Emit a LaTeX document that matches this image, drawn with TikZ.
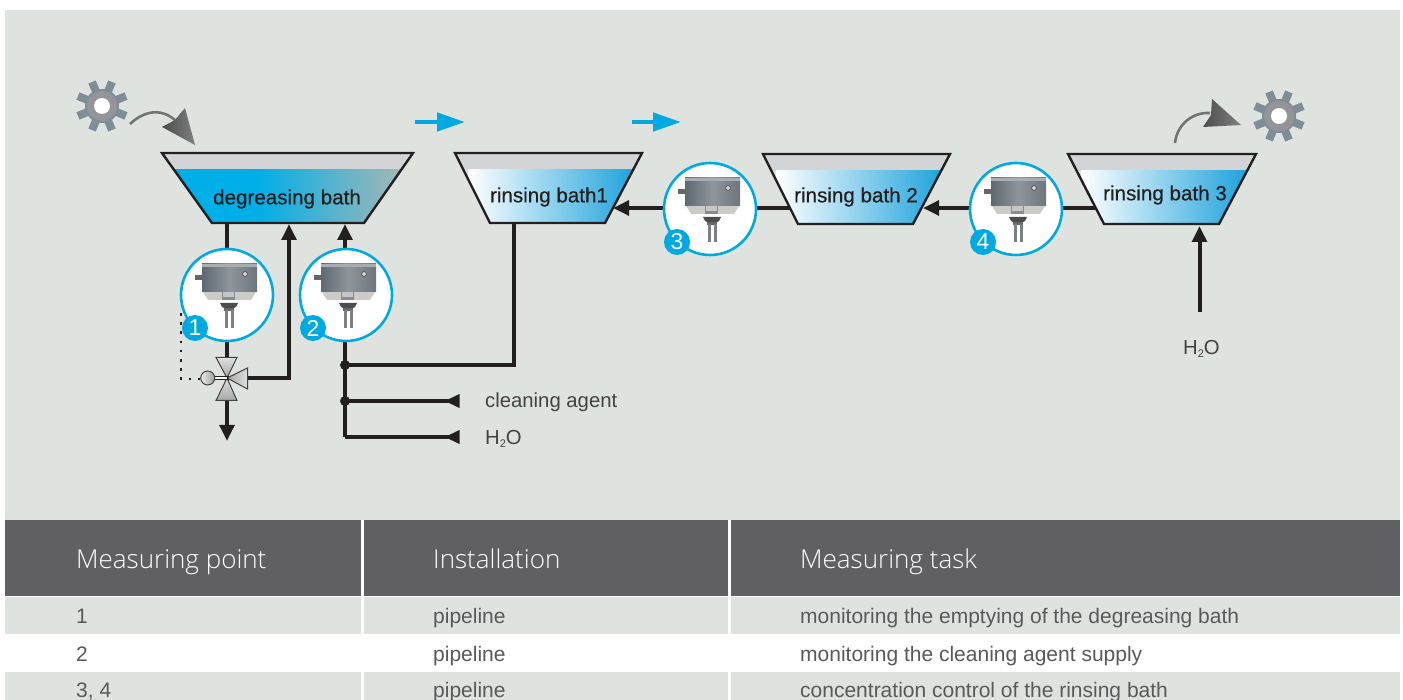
\documentclass[tikz,border=0pt]{standalone}
\usepackage{fontspec}
\setmainfont{Liberation Sans}
\newfontfamily\bathfont[FakeBold=0.45]{Liberation Sans}
\setsansfont{Open Sans}[UprightFont=* Light]
\usetikzlibrary{calc,arrows.meta}
\definecolor{panel}{HTML}{DFE3E0}
\definecolor{headbg}{HTML}{606062}
\definecolor{pipeblk}{HTML}{231F20}
\definecolor{cy}{HTML}{00AEE8}
\definecolor{cyb}{HTML}{00A9E0}
\definecolor{rinseb}{HTML}{1FA3DC}
\definecolor{airg}{HTML}{D2D4D6}
\definecolor{txt}{HTML}{58595B}
\definecolor{gearc}{HTML}{7F8E96}
\definecolor{ringc}{HTML}{939598}
\definecolor{greyend}{HTML}{A3B7B5}
\definecolor{boxl}{HTML}{5F6972}
\definecolor{boxm}{HTML}{8E959B}
\definecolor{boxr}{HTML}{6E767D}
\definecolor{boxt}{HTML}{A8ADB2}
\definecolor{lowerb}{HTML}{CCCBC8}
\definecolor{tube}{HTML}{7D8083}
\pgfdeclarehorizontalshading{degrshade}{100bp}{color(0bp)=(cy); color(45bp)=(cy); color(75bp)=(greyend); color(100bp)=(greyend)}
\tikzset{x=1pt,y=-1pt,
 pipeline/.style={draw=pipeblk,line width=4pt},
 headtip/.style={-{Triangle[length=16pt,width=14.5pt]}},
 sensorring/.style={circle,draw=cyb,line width=2.6pt,fill=white,minimum size=92pt,inner sep=0pt},
 badge/.style={circle,fill=cyb,text=white,minimum size=26pt,inner sep=0pt,font=\fontsize{23}{23}\selectfont},
 bathlabel/.style={text=pipeblk,inner sep=0pt,font=\bathfont\fontsize{20.6}{22}\selectfont},
 lab/.style={text=pipeblk!85!white,inner sep=0pt,anchor=base west,font=\fontsize{20.3}{24}\selectfont},
 hcell/.style={text=white,inner sep=0pt,anchor=base west,font=\sffamily\fontsize{26}{30}\selectfont},
 cell/.style={text=txt,inner sep=0pt,anchor=base west,font=\fontsize{21}{24}\selectfont},
 valvepart/.style={draw=pipeblk!85!white,line width=1pt,top color=gray!25,bottom color=gray!70},
 valveside/.style={draw=pipeblk!85!white,line width=1pt,left color=gray!70,right color=gray!25},
 junction/.style={circle,fill=pipeblk,minimum size=10pt,inner sep=0pt},
}
% bath: x top left, x top right, x bottom left, x bottom right, y top, y bottom, y water
\newcommand{\bathbody}[8]{%
 \begin{scope}
  \clip (#1,#5) -- (#2,#5) -- (#4,#6) -- (#3,#6) -- cycle;
  \fill[airg] (#1,#5) rectangle (#2,#7);
  #8
 \end{scope}
 \draw[draw=pipeblk,line width=2.4pt,line join=miter] (#1,#5) -- (#2,#5) -- (#4,#6) -- (#3,#6) -- cycle;
}
\newcommand{\rinsefill}[4]{\shade[left color=white,right color=rinseb] (#1,#3) rectangle (#2,#4);}
% sensor picture at centre
\newcommand{\sensorpic}[2]{%
 \begin{scope}[shift={(#1,#2)}]
  \fill[gray!80!black] (-32,-20) rectangle (-25,-15);
  \fill[lowerb] (-24,-3) -- (29,-3) -- (24,5) -- (-19,5) -- cycle;
  \shade[left color=boxl,right color=boxr,middle color=boxm] (-25,-31) rectangle (30,-3);
  \fill[boxt] (-25,-31) rectangle (30,-28);
  \fill[gray!30] (18,-21) circle (2.4);
  \draw[black!70,line width=.7pt] (18,-21) circle (2.4);
  \fill[tube!90!white] (-5,-3) rectangle (8,5);
  \fill[tube!45!white] (-4,-3) rectangle (7,2);
  \fill[black!70] (-7,8) -- (11,8) -- (9,12) -- (5,14) -- (-1,14) -- (-5,12) -- cycle;
  \fill[black!60] (-3,13) rectangle (7,16);
  \fill[tube] (-2,15) rectangle (1,33);
  \fill[tube] (4,15) rectangle (7,33);
 \end{scope}}
\newcommand{\gearpic}[2]{%
 \begin{scope}[shift={(#1,#2)}]
  \foreach \a in {22.5,67.5,...,337.5}{\fill[gearc,rotate=\a] (12,-4) rectangle (26,4);}
  \fill[gearc] (0,0) circle (17);
  \fill[ringc] (0,0) circle (15);
  \fill[white] (0,0) circle (8);
 \end{scope}}
\begin{document}
\begin{tikzpicture}
\useasboundingbox (0,0) rectangle (1403,700);
\fill[white] (0,0) rectangle (1403,700);
\fill[panel] (5,10) rectangle (1400,520);
% table
\fill[headbg] (5,520) rectangle (1400,596);
\fill[panel] (5,597) rectangle (1400,634);
\fill[panel] (5,672) rectangle (1400,700);
\foreach \cx in {362.5,729.5}{
 \fill[white] (\cx-1.2,520) rectangle (\cx+1.2,634);
 \fill[white] (\cx-1.2,672) rectangle (\cx+1.2,700);}
\node[hcell] (h1) at (76,568) {Measuring point};
\node[hcell] (h2) at (433,568) {Installation};
\node[hcell] (h3) at (800,568) {Measuring task};
\node[cell] (c11) at (76,623) {1};
\node[cell] (c12) at (433,623) {pipeline};
\node[cell] (c13) at (800,623) {monitoring the emptying of the degreasing bath};
\node[cell] (c21) at (76,661) {2};
\node[cell] (c22) at (433,661) {pipeline};
\node[cell] (c23) at (800,661) {monitoring the cleaning agent supply};
\node[cell] (c31) at (76,697) {3, 4};
\node[cell] (c32) at (433,697) {pipeline};
\node[cell] (c33) at (800,697) {concentration control of the rinsing bath};
% named points
\coordinate (degOut) at (227,223);
\coordinate (degIn1) at (289,224);
\coordinate (degIn2) at (345,224);
\coordinate (r1Out) at (514,223);
\coordinate (r1In) at (613,208);
\coordinate (r2Out) at (790,208);
\coordinate (r2In) at (923,208);
\coordinate (r3Out) at (1095,208);
\coordinate (r3In) at (1199.5,226);
\coordinate (r3Src) at (1199.5,312);
\coordinate (valve) at (227,378);
\coordinate (drain) at (227,441);
\coordinate (bend1) at (289,378);
\coordinate (j1) at (345,365);
\coordinate (j2) at (345,401);
\coordinate (base) at (345,437);
\coordinate (bend2) at (514,365);
\coordinate (caEnd) at (450,401);
\coordinate (waEnd) at (450,437);
% pipes
\draw[pipeline] (degOut) -- (valve);
\draw[pipeline,headtip] (valve) -- (bend1) -- (degIn1);
\draw[pipeline,headtip] (base) -- (degIn2);
\draw[pipeline] (j1) -- (bend2) -- (r1Out);
\draw[pipeline] (j2) -- (caEnd);
\draw[pipeline] (base) -- (waEnd);
\fill[pipeblk] (445,401) -- (459.5,394) -- (459.5,408) -- cycle;
\fill[pipeblk] (445,437) -- (459.5,430) -- (459.5,444) -- cycle;
\draw[pipeline,headtip] (valve) -- (drain);
\draw[pipeline,headtip] (r2Out) -- (r1In);
\draw[pipeline,headtip] (r3Out) -- (r2In);
\draw[pipeline,headtip] (r3Src) -- (r3In);
\node[junction] (n1) at (j1) {};
\node[junction] (n2) at (j2) {};
% baths
\bathbody{162}{413}{212}{364}{153}{223}{170}{%
 \shade[shading=degrshade] (162,170) rectangle (400,223);}
\bathbody{455}{642}{490}{605}{153}{223}{170}{\rinsefill{468}{634}{170}{223}}
\bathbody{763}{950}{798}{913}{154}{224}{171}{\rinsefill{776}{942}{171}{224}}
\bathbody{1068}{1256}{1104}{1219}{154}{224}{171}{\rinsefill{1081}{1246}{171}{224}}
\node[bathlabel] (b0) at (287,199) {degreasing bath};
\node[bathlabel] (b1) at (549,197) {rinsing bath1};
\node[bathlabel] (b2) at (856,197) {rinsing bath 2};
\node[bathlabel] (b3) at (1165,195) {rinsing bath 3};
% valve
\draw[pipeblk,dash pattern=on 2.6pt off 6.6pt,line width=2.6pt] (181,313) -- (181,379) -- (200,379);
\draw[valvepart] (216,357.5) -- (237,357.5) -- (valve) -- cycle;
\draw[valvepart] (216,400.5) -- (237,400.5) -- (valve) -- cycle;
\draw[valveside] (247.5,368) -- (247.5,389) -- (valve) -- cycle;
\draw[pipeblk,line width=.8pt,fill=white] (208,376.5) rectangle (227,379.5);
\draw[pipeblk!85!white,line width=1pt,left color=gray!15,right color=gray!75] (207.7,378) circle (7);
% sensors
\node[sensorring] (s1) at (227,295) {};
\node[sensorring] (s2) at (346,295) {};
\node[sensorring] (s3) at (710,209) {};
\node[sensorring] (s4) at (1016,209) {};
\sensorpic{227}{295}\sensorpic{346}{295}\sensorpic{710}{209}\sensorpic{1016}{209}
\node[badge] (p1) at (195,328) {1};
\node[badge] (p2) at (313,328) {2};
\node[badge] (p3) at (677,242) {3};
\node[badge] (p4) at (983,242) {4};
% gears and grey arrows
\gearpic{102}{106}\gearpic{1279}{116}
\coordinate (g1s) at (130,124);
\coordinate (g1e) at (176,121);
\draw[gray!90!black,line width=2.6pt] (g1s) .. controls (145,110) and (162,108) .. (g1e);
\shade[left color=black!70,right color=black!50] (195,145) -- (185,108) -- (175,120) -- (162,127) -- cycle;
\coordinate (g2s) at (1175,143);
\coordinate (g2e) at (1210,113);
\draw[gray!90!black,line width=2.6pt] (g2s) .. controls (1177,124) and (1193,112) .. (g2e);
\shade[left color=black!70,right color=black!50] (1241,125) -- (1212,99) -- (1211,115) -- (1203,127) -- cycle;
% blue arrows
\coordinate (a1s) at (415,122); \coordinate (a1e) at (465,122);
\coordinate (a2s) at (632,122); \coordinate (a2e) at (681,122);
\draw[cyb,line width=4.5pt,-{Triangle[length=28pt,width=18pt]}] (a1s) -- (a1e);
\draw[cyb,line width=4.5pt,-{Triangle[length=28pt,width=18pt]}] (a2s) -- (a2e);
% labels
\node[lab] (l1) at (485,408) {cleaning agent};
\node[lab] (l2) at (485,444) {H\raisebox{-3pt}{\fontsize{11}{11}\selectfont 2}O};
\node[lab] (l3) at (1183,355) {H\raisebox{-3pt}{\fontsize{11}{11}\selectfont 2}O};
\end{tikzpicture}
\end{document}
